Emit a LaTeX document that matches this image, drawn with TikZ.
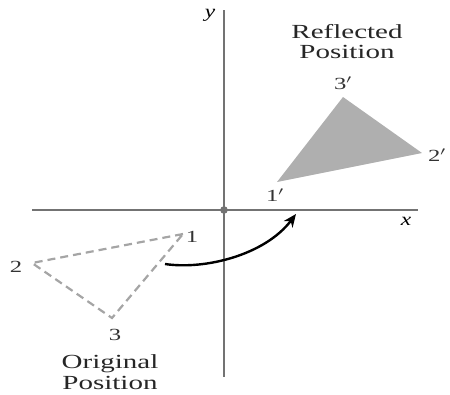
\documentclass[tikz,border=0pt]{standalone}
\usepackage{fontspec}
\setmainfont{Liberation Serif}
\usetikzlibrary{arrows.meta}
\definecolor{axisgray}{RGB}{115,115,115}
\definecolor{dashgray}{RGB}{165,165,165}
\definecolor{fillgray}{RGB}{175,175,175}
\begin{document}
\begin{tikzpicture}[x=1pt,y=-1pt,
  axisline/.style={draw=axisgray,line width=2.2pt},
  origtri/.style={draw=dashgray,line width=2.2pt,dash pattern=on 8pt off 5pt},
  refltri/.style={fill=fillgray,draw=none},
  vlabel/.style={font=\fontsize{17}{17}\selectfont,xscale=1.45,transform shape,text=black!80,inner sep=0pt},
  tlabel/.style={font=\fontsize{20}{20}\selectfont,xscale=1.45,transform shape,text=black!85,inner sep=0pt,align=center},
  alabel/.style={font=\fontsize{18}{18}\selectfont\itshape,xscale=1.3,transform shape,inner sep=0pt},
  arrowline/.style={draw=black,line width=2.4pt,-{Stealth[length=13pt,width=11pt]}}]
\useasboundingbox (0,0) rectangle (450,394);
% axes
\coordinate (xl) at (32,210);
\coordinate (xr) at (418,210);
\coordinate (yt) at (224,10);
\coordinate (yb) at (224,377);
\coordinate (o) at (224,210);
\draw[axisline] (xl) -- (xr);
\draw[axisline] (yt) -- (yb);
\fill[axisgray] (o) circle (3.8pt);
\node[alabel] (xlab) at (406,221) {x};
\node[alabel] (ylab) at (210,15) {y};
% original triangle
\coordinate (p1) at (183,234);
\coordinate (p2) at (32,263);
\coordinate (p3) at (112,318);
\draw[origtri] (p1) -- (p2) -- (p3) -- cycle;
\node[vlabel] (l1) at (192,237) {1};
\node[vlabel] (l2) at (16,267) {2};
\node[vlabel] (l3) at (115,335) {3};
\node[tlabel] (orig) at (110,364) {Original};
\node[tlabel] (origb) at (110,383) {Position};
% reflected triangle
\coordinate (q1) at (277,182);
\coordinate (q2) at (422,153);
\coordinate (q3) at (343,97);
\fill[refltri] (q1) -- (q2) -- (q3) -- cycle;
\node[vlabel] (m1) at (275,195) {1$'$};
\node[vlabel] (m2) at (437,155) {2$'$};
\node[vlabel] (m3) at (343,83) {3$'$};
\node[tlabel] (refl) at (347,32) {Reflected};
\node[tlabel] (reflb) at (347,52) {Position};
% arrow
\coordinate (as) at (165,264);
\coordinate (ae) at (296,214);
\draw[arrowline] (as) .. controls (205,270) and (265,255) .. (ae);
\end{tikzpicture}
\end{document}
